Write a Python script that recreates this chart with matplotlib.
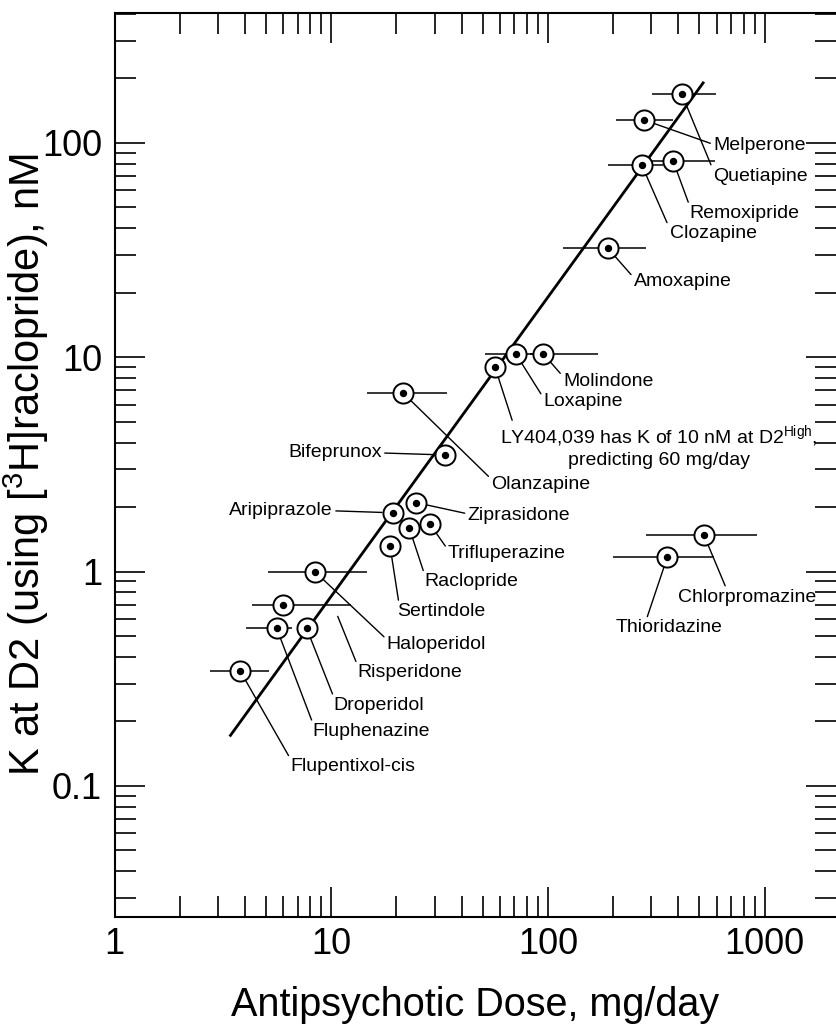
import numpy as np
import matplotlib.pyplot as plt
from matplotlib.ticker import LogLocator, FixedLocator, FuncFormatter, NullFormatter

plt.rcParams['font.family'] = ['Liberation Sans', 'DejaVu Sans']
plt.rcParams['mathtext.fontset'] = 'custom'
plt.rcParams['mathtext.rm'] = 'Liberation Sans'
plt.rcParams['mathtext.it'] = 'Liberation Sans:italic'

nan = np.nan

# drug, clinical dose (mg/day), K at D2 (nM), dose range
drugs = ['Quetiapine', 'Melperone', 'Clozapine', 'Remoxipride', 'Amoxapine',
         'Molindone', 'Loxapine', 'LY404,039', 'Olanzapine', 'Bifeprunox',
         'Ziprasidone', 'Aripiprazole', 'Raclopride', 'Trifluperazine',
         'Sertindole', 'Haloperidol', 'Risperidone', 'Fluphenazine',
         'Droperidol', 'Flupentixol-cis', 'Chlorpromazine', 'Thioridazine']
dose = [415, 278, 271, 379, 189, 95, 71, 57, 21.5, 33.5, 24.5, 19.3,
        22.9, 28.6, 18.7, 8.4, 6.0, 5.6, 7.7, 3.8, 525, 356]
k_d2 = [169, 128, 79, 82, 32.3, 10.4, 10.4, 9.0, 6.8, 3.5, 2.1, 1.88,
        1.6, 1.66, 1.31, 1.0, 0.70, 0.544, 0.544, 0.344, 1.48, 1.17]
dose_lo = [301, 206, 189, 296, 117, 83, 51, nan, 14.6, nan, nan, nan,
           nan, nan, nan, 5.1, 4.3, 4.05, nan, 2.76, 284, 199]
dose_hi = [597, 378, 340, 590, 284, 170, 92, nan, 34.2, nan, nan, nan,
           nan, nan, nan, 14.6, 12.4, 6.6, nan, 5.18, 925, 584]

# regression line ends
fit_x = [3.4, 525]
fit_y = [0.17, 193]

# label text, offset (px), ha, va, relpos
labels = {
    'Quetiapine': ('Quetiapine', 31, -82, 'left', 'center', (0, 0.9)),
    'Melperone': ('Melperone', 69, -26, 'left', 'center', (0, 0.6)),
    'Clozapine': ('Clozapine', 28, -69, 'left', 'center', (0, 0.8)),
    'Remoxipride': ('Remoxipride', 16, -52, 'left', 'center', (0, 1)),
    'Amoxapine': ('Amoxapine', 26, -33, 'left', 'center', (0, 0.7)),
    'Molindone': ('Molindone', 20, -28, 'left', 'center', (0, 0.8)),
    'Loxapine': ('Loxapine', 28, -48, 'left', 'center', (0, 0.7)),
    'LY404,039': ('LY404,039 has K of 10 nM at D2$^{\\rm High}$,\npredicting 60 mg/day',
                  164, -56, 'center', 'top', (0.04, 1)),
    'Olanzapine': ('Olanzapine', 88, -91, 'left', 'center', (0, 0.8)),
    'Bifeprunox': ('Bifeprunox', -63, 2, 'right', 'center', (1, 0.5)),
    'Ziprasidone': ('Ziprasidone', 52, -13, 'left', 'center', (0, 0.6)),
    'Aripiprazole': ('Aripiprazole', -60, 2, 'right', 'center', (1, 0.5)),
    'Raclopride': ('Raclopride', 15, -54, 'left', 'center', (0, 1)),
    'Trifluperazine': ('Trifluperazine', 18, -29, 'left', 'center', (0, 0.7)),
    'Sertindole': ('Sertindole', 7, -65, 'left', 'center', (0.02, 1)),
    'Haloperidol': ('Haloperidol', 72, -73, 'left', 'center', (0, 0.8)),
    'Risperidone': ('Risperidone', 24, -68, 'left', 'center', (0, 1)),
    'Fluphenazine': ('Fluphenazine', 36, -103, 'left', 'center', (0, 1)),
    'Droperidol': ('Droperidol', 27, -77, 'left', 'center', (0, 1)),
    'Flupentixol-cis': ('Flupentixol-cis', 50, -96, 'left', 'center', (0, 1)),
    'Chlorpromazine': ('Chlorpromazine', -26, -62, 'left', 'center', (0.35, 1)),
    'Thioridazine': ('Thioridazine', -52, -71, 'left', 'center', (0.29, 1)),
}

fig = plt.figure(figsize=(8.36, 10.26), dpi=100)
ax = fig.add_axes([114.5 / 836, 109 / 1026, 1 - 114.5 / 836, 904 / 1026])
ax.set_xscale('log')
ax.set_yscale('log')
ax.set_xlim(1, 2136)
ax.set_ylim(0.02444, 404)

# fitted line
ax.plot(fit_x, fit_y, color='black', lw=2.0, zorder=1, solid_capstyle='butt')

# dose ranges
ax.hlines(k_d2, dose_lo, dose_hi, color='black', lw=1.1, zorder=2)

# points
ax.plot(dose, k_d2, 'o', ms=14.5, mfc='white', mec='black', mew=1.4, zorder=3)
ax.plot(dose, k_d2, 'o', ms=4.3, color='black', zorder=4)

for i, name in enumerate(drugs):
    txt, dx, dy, ha, va, rel = labels[name]
    xy = (dose[i], k_d2[i])
    shrink = 8
    if name == 'Risperidone':
        xy = (10.2, k_d2[i])
        shrink = 9
    ax.annotate(txt, xy=xy, xytext=(dx, dy), textcoords='offset pixels',
                ha=ha, va=va, fontsize=14, multialignment='center',
                arrowprops=dict(arrowstyle='-', lw=1.0, color='black',
                                shrinkA=0, shrinkB=shrink, relpos=rel),
                zorder=2)

# axes styling
for s in ['left', 'top', 'bottom']:
    ax.spines[s].set_linewidth(1.5)
ax.spines['right'].set_visible(False)

ax.xaxis.set_major_locator(LogLocator(base=10, numticks=10))
ax.yaxis.set_major_locator(LogLocator(base=10, numticks=10))
xminor = [m * 10.0 ** e for e in range(0, 3) for m in range(2, 10)]
ax.xaxis.set_minor_locator(FixedLocator(xminor))
ax.yaxis.set_minor_locator(LogLocator(base=10, subs=np.arange(2, 10), numticks=20))
fmt = FuncFormatter(lambda v, p: '%g' % v)
ax.xaxis.set_major_formatter(fmt)
ax.yaxis.set_major_formatter(fmt)
ax.xaxis.set_minor_formatter(NullFormatter())
ax.yaxis.set_minor_formatter(NullFormatter())

ax.tick_params(which='both', direction='in', top=True, right=True, width=1.2)
ax.tick_params(which='major', length=21.5, labelsize=26)
ax.tick_params(which='minor', length=15)
ax.tick_params(axis='x', which='major', pad=7)
ax.tick_params(axis='y', which='major', pad=9)

ax.set_xlabel('Antipsychotic Dose, mg/day', fontsize=28.5)
ax.set_ylabel('K at D2 (using [$^{\\rm 3}$H]raclopride), nM', fontsize=30)
ax.xaxis.set_label_coords((475 - 114.5) / 721.5, (917 - 986) / 904)
ax.yaxis.set_label_coords((51 - 114.5) / 721.5, 0.5)

fig.savefig('out.png', dpi=100)
